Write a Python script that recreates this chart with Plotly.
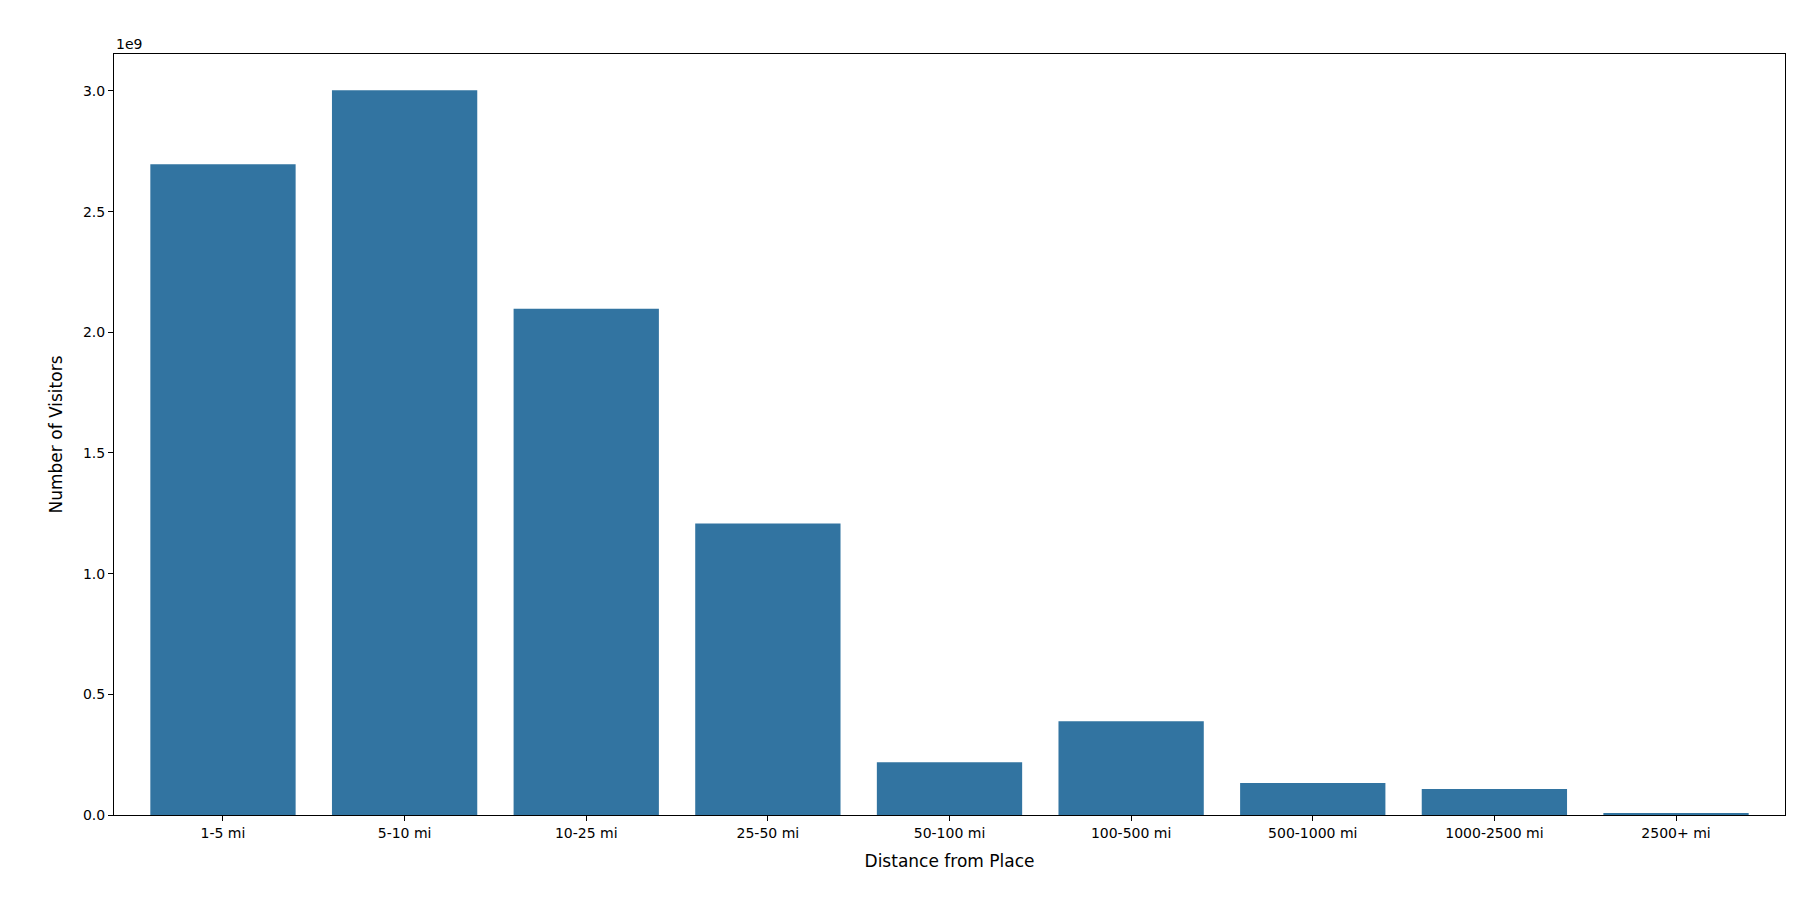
import plotly.graph_objects as go

# Visitors by distance band
distances = ['1-5 mi', '5-10 mi', '10-25 mi', '25-50 mi', '50-100 mi',
             '100-500 mi', '500-1000 mi', '1000-2500 mi', '2500+ mi']
visitors = [2.696e9, 3.003e9, 2.097e9, 1.208e9, 0.219e9,
            0.388e9, 0.133e9, 0.108e9, 0.008e9]

tick_vals = [0, 0.5e9, 1.0e9, 1.5e9, 2.0e9, 2.5e9, 3.0e9]
tick_text = ['0.0', '0.5', '1.0', '1.5', '2.0', '2.5', '3.0']

fig = go.Figure(
    data=[
        go.Bar(
            x=distances,
            y=visitors,
            marker=dict(color='#3274a1', line=dict(width=0)),
            width=0.8,
        )
    ]
)

axis_style = dict(
    showline=True, linecolor='black', linewidth=1, mirror=True,
    ticks='outside', ticklen=5, tickcolor='black', showgrid=False,
    zeroline=False, tickfont=dict(family='DejaVu Sans', size=14, color='black'),
)

fig.update_layout(
    width=1800, height=900,
    plot_bgcolor='white', paper_bgcolor='white',
    margin=dict(l=106, r=23, t=46, b=93),
    showlegend=False,
    bargap=0.2,
    xaxis=dict(
        title=dict(text='Distance from Place', font=dict(family='DejaVu Sans', size=17, color='black')),
        range=[-0.6, 8.6],
        **axis_style,
    ),
    yaxis=dict(
        title=dict(text='Number of Visitors', font=dict(family='DejaVu Sans', size=17, color='black')),
        range=[0, 3.153e9],
        tickvals=tick_vals, ticktext=tick_text,
        **axis_style,
    ),
    annotations=[
        dict(text='1e9', xref='paper', yref='paper', x=0, y=1.0,
             xanchor='left', yanchor='bottom', showarrow=False,
             font=dict(family='DejaVu Sans', size=14, color='black'))
    ],
)

fig.write_html('out.html')
